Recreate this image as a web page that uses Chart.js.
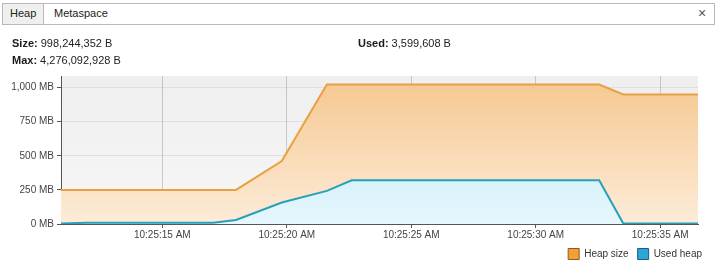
<!DOCTYPE html>
<html>
<head>
<meta charset="utf-8">
<script src="https://cdn.jsdelivr.net/npm/chart.js@4"></script>
<style>
  html,body{margin:0;padding:0;background:#fff;width:716px;height:264px;overflow:hidden;font-family:"Liberation Sans",Arial,sans-serif;font-size:11px;color:#222;}
  #wrap{position:relative;width:716px;height:264px;}
  #c{position:absolute;left:0;top:0;}
  .abs{position:absolute;white-space:nowrap;}
  #strip{position:absolute;left:2px;top:3px;width:711px;height:20px;border:1px solid #b8b8b8;background:#fff;}
  #heapTab{position:absolute;left:0;top:0;width:40px;height:20px;background:#efefef;border-right:1px solid #b8b8b8;}
  b{font-weight:bold;color:#1a1a1a;}
</style>
</head>
<body>
<div id="wrap">
  <canvas id="c" width="716" height="264"></canvas>
  <div id="strip">
    <div id="heapTab"></div>
    <div class="abs" style="left:7px;top:3px;">Heap</div>
    <div class="abs" style="left:51px;top:3px;">Metaspace</div>
    <div class="abs" style="left:695px;top:1px;font-size:14px;color:#555;">×</div>
  </div>
  <div class="abs" style="left:12px;top:37px;"><b>Size:</b> 998,244,352 B</div>
  <div class="abs" style="left:12px;top:54px;"><b>Max:</b> 4,276,092,928 B</div>
  <div class="abs" style="left:358px;top:37px;"><b>Used:</b> 3,599,608 B</div>
</div>
<script>
// seconds after 10:25:00
const times    = [10.93, 11.97, 17.04, 17.96, 19.80, 21.61, 22.61, 32.55, 33.52, 36.52];
const heapSize = [250,   250,   250,   250,   462,   1022,  1022,  1022,  950,   950];
const usedHeap = [3,     10,    10,    30,    158,   243,   321,   321,   3,     3];
const xTicks   = [15, 20, 25, 30, 35];
const yTicks   = [0, 250, 500, 750, 1000];
const seriesNames = ['Heap size', 'Used heap'];

const FONT = {family: '"Liberation Sans", Arial, sans-serif', size: 10};

function grad(ctx, area, top, bottom) {
  const g = ctx.createLinearGradient(0, area.top, 0, area.bottom);
  g.addColorStop(0, top);
  g.addColorStop(1, bottom);
  return g;
}

const bgPlugin = {
  id: 'plotBg',
  beforeDraw(chart) {
    const {ctx, chartArea: a} = chart;
    if (!a) return;
    ctx.save();
    ctx.fillStyle = grad(ctx, a, '#efefef', '#f6f6f6');
    ctx.fillRect(a.left, a.top, a.right - a.left, a.bottom - a.top);
    ctx.restore();
  },
  afterLayout(chart) {
    const l = chart.legend;
    if (l) { l.left += 13; l.right += 13; l.top -= 4.5; l.bottom -= 4.5; }
  }
};

new Chart(document.getElementById('c'), {
  type: 'line',
  data: {
    datasets: [
      {
        label: seriesNames[1],
        data: times.map((t, i) => ({x: t, y: usedHeap[i]})),
        borderColor: '#2a9fb9',
        borderWidth: 2,
        pointRadius: 0,
        tension: 0,
        fill: 'origin',
        backgroundColor: (c) => c.chart.chartArea ? grad(c.chart.ctx, c.chart.chartArea, '#b9e6f6', '#e6f7fd') : '#d0eef9'
      },
      {
        label: seriesNames[0],
        data: times.map((t, i) => ({x: t, y: heapSize[i]})),
        borderColor: '#e9a043',
        borderWidth: 2,
        pointRadius: 0,
        tension: 0,
        fill: 'origin',
        backgroundColor: (c) => c.chart.chartArea ? grad(c.chart.ctx, c.chart.chartArea, '#f5c78e', '#fdecd9') : '#f9d9b0'
      }
    ]
  },
  options: {
    responsive: false,
    animation: false,
    events: [],
    layout: {padding: {left: 0, right: 18, top: 76, bottom: -10}},
    plugins: {
      tooltip: {enabled: false},
      legend: {
        position: 'bottom',
        align: 'end',
        labels: {
          boxWidth: 11,
          boxHeight: 11,
          padding: 9,
          color: '#333',
          font: {family: FONT.family, size: 10},
          generateLabels: () => [
            {text: seriesNames[0], fillStyle: '#f0a035', strokeStyle: '#8c5a1e', lineWidth: 1, datasetIndex: 1, fontColor: '#333'},
            {text: seriesNames[1], fillStyle: '#2ba6d6', strokeStyle: '#1b5d80', lineWidth: 1, datasetIndex: 0, fontColor: '#333'}
          ]
        }
      }
    },
    scales: {
      x: {
        type: 'linear',
        min: times[0],
        max: times[times.length - 1],
        z: 1,
        afterBuildTicks: (s) => { s.ticks = xTicks.map(v => ({value: v})); },
        afterFit: (s) => { s.height = 20; },
        grid: {color: 'rgba(0,0,0,0.17)', tickColor: '#555', tickLength: 4, lineWidth: 1},
        border: {color: '#555', width: 1},
        ticks: {
          color: '#444', font: FONT, padding: 1, maxRotation: 0, autoSkip: false,
          callback: (v) => '10:25:' + String(Math.round(v)).padStart(2, '0') + ' AM'
        }
      },
      y: {
        min: 0,
        max: 1085,
        z: 1,
        afterBuildTicks: (s) => { s.ticks = yTicks.map(v => ({value: v})); },
        afterFit: (s) => { s.width = 61; },
        grid: {color: 'rgba(0,0,0,0.07)', tickColor: '#555', tickLength: 4, lineWidth: 1},
        border: {color: '#555', width: 1},
        ticks: {
          color: '#444', font: FONT, padding: 3,
          callback: (v) => v.toLocaleString('en-US') + ' MB'
        }
      }
    }
  },
  plugins: [bgPlugin]
});
</script>
</body>
</html>
